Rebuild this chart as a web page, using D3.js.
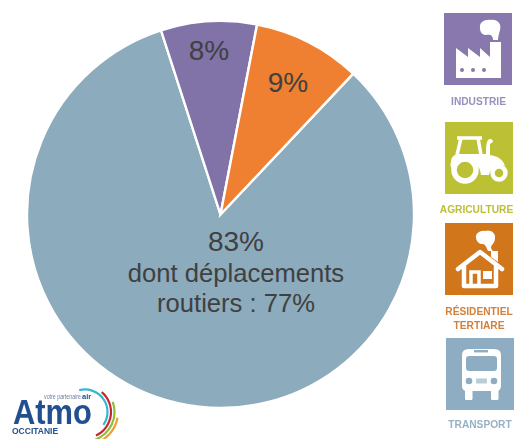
<!DOCTYPE html>
<html>
<head>
<meta charset="utf-8">
<script src="https://cdn.jsdelivr.net/npm/d3@7/dist/d3.min.js"></script>
<style>
html,body{margin:0;padding:0;background:#fff;overflow:hidden}
svg{display:block}
text{font-family:"Liberation Sans",Arial,sans-serif}
</style>
</head>
<body>
<script>
// Parts of emissions by sector, in percent
const sectors = ["Transport", "Industrie", "Résidentiel-tertiaire"];
const shares = [83, 8, 9];
const shareLabels = ["83%", "8%", "9%"];
const sliceColors = ["#8cabbc", "#8172a8", "#ef8031"];
const transportDetail = ["dont déplacements", "routiers : 77%"];

// Legend tiles
const legendNames = ["industrie", "agriculture", "residentiel", "transport"];
const legendColors = ["#8878ae", "#bcc036", "#d2761e", "#8fadc2"];
const legendTextColors = ["#9a8fba", "#bcc036", "#d2813a", "#97b1c4"];
const legendCaptions = [["INDUSTRIE"], ["AGRICULTURE"], ["RÉSIDENTIEL", "TERTIARE"], ["TRANSPORT"]];
const tileX = [444, 445, 445, 446];
const tileY = [13, 122, 223, 338];
const captionX = [478.5, 476.5, 479, 480];
const captionY = [[105], [213], [315, 329], [428]];

const width = 514, height = 439;
const svg = d3.select("body").append("svg").attr("width", width).attr("height", height);

const defs = svg.append("defs");
defs.append("filter").attr("id", "soft").append("feGaussianBlur").attr("stdDeviation", 0.6);

// Pie
const cx = 220.5, cy = 214.5, radius = 193.5;
const startDeg = 43.3;
const pie = d3.pie().sort(null).value(d => d)
  .startAngle(startDeg * Math.PI / 180)
  .endAngle((startDeg + 360) * Math.PI / 180);
const arc = d3.arc().innerRadius(0).outerRadius(radius);
const g = svg.append("g").attr("transform", `translate(${cx},${cy})`);
const arcs = pie(shares);
g.selectAll("path").data(arcs).join("path")
  .attr("d", arc)
  .attr("fill", (d, i) => sliceColors[i])
  .attr("stroke", "#fff")
  .attr("stroke-width", 2.4)
  .attr("stroke-linejoin", "miter");

const ink = "#404040";
const labelPos = [[236, 251], [209, 60], [288, 92]];
svg.selectAll("text.share").data(shareLabels).join("text")
  .attr("class", "share")
  .attr("x", (d, i) => labelPos[i][0])
  .attr("y", (d, i) => labelPos[i][1])
  .attr("text-anchor", "middle")
  .attr("font-size", 28)
  .attr("fill", ink)
  .text(d => d);
svg.selectAll("text.detail").data(transportDetail).join("text")
  .attr("class", "detail")
  .attr("x", 236)
  .attr("y", (d, i) => 282 + i * 30)
  .attr("text-anchor", "middle")
  .attr("font-size", 25.6)
  .attr("fill", ink)
  .text(d => d);

// Pictograms drawn in a 68 x 72 tile
const glyphs = {
  industrie(t) {
    t.append("path").attr("fill", "#fff").attr("d",
      "M12 65V35L24 44V35L36 44V35L46 44V29H57V65Z");
    t.append("path").attr("fill", "#fff").attr("d",
      "M36 15C35 9 41 6 47 7C53 6 58 11 56 17C55 21 54 24 54 27H49C49 23 47 21 42 22C38 22 36 19 36 15Z");
    t.selectAll("circle.win").data([18, 29, 40]).join("circle")
      .attr("cx", d => d).attr("cy", 57).attr("r", 2).attr("fill", "#8878ae");
  },
  agriculture(t) {
    t.append("path").attr("fill", "none").attr("stroke", "#fff").attr("stroke-width", 3.5).attr("d",
      "M12 16H37M16 16L12 33M33 16L36 33");
    t.append("path").attr("fill", "#fff").attr("d",
      "M6 40C6 35 9 32 15 32H41C41 27 41 21 43 18C45 16 48 17 48 20L45 22V33C52 34 58 37 60 44C55 42 49 44 46 48C45 50 44 51 44 53H36C35 43 29 39 20 39C13 39 9 41 7 46C5 45 5 42 6 40Z");
    t.append("circle").attr("cx", 20).attr("cy", 48).attr("r", 11).attr("fill", "none").attr("stroke", "#fff").attr("stroke-width", 5.5);
    t.append("circle").attr("cx", 54).attr("cy", 51).attr("r", 6.5).attr("fill", "none").attr("stroke", "#fff").attr("stroke-width", 4.5);
  },
  residentiel(t) {
    t.append("path").attr("fill", "none").attr("stroke", "#fff").attr("stroke-width", 4.5).attr("stroke-linejoin", "round").attr("stroke-linecap", "round").attr("d",
      "M13 46L35 29L57 46M19 43V63H51V43");
    t.append("path").attr("fill", "#fff").attr("d", "M46 28H53V39L46 34Z");
    t.append("path").attr("fill", "none").attr("stroke", "#fff").attr("stroke-width", 3.5).attr("d", "M26 64V49H34V64");
    t.append("rect").attr("x", 38).attr("y", 48).attr("width", 9).attr("height", 8).attr("fill", "#fff");
    t.append("path").attr("fill", "#fff").attr("d",
      "M31 15C30 10 36 7 40 8C45 6 51 10 50 15C50 20 47 21 46 24C46 26 47 27 48 28H43C41 24 41 22 38 21C34 21 32 19 31 15Z");
  },
  transport(t) {
    t.append("path").attr("fill", "#fff").attr("fill-rule", "evenodd").attr("d",
      "M16 17Q16 11 23 11H48Q55 11 55 17V48Q55 53 50 53H21Q16 53 16 48Z M20 21V30Q20 33 23 33H48Q51 33 51 30V21Q51 18 48 18H23Q20 18 20 21Z");
    t.append("rect").attr("x", 28).attr("y", 12).attr("width", 14).attr("height", 2.4).attr("fill", "#8fadc2");
    t.append("rect").attr("x", 19).attr("y", 51).attr("width", 7.5).attr("height", 11).attr("rx", 1.5).attr("fill", "#fff");
    t.append("rect").attr("x", 45).attr("y", 51).attr("width", 7.5).attr("height", 11).attr("rx", 1.5).attr("fill", "#fff");
    t.selectAll("circle").data([23, 48]).join("circle")
      .attr("cx", d => d).attr("cy", 43).attr("r", 3.3).attr("fill", "#8fadc2");
    t.append("rect").attr("x", 30).attr("y", 40.5).attr("width", 11).attr("height", 5).attr("fill", "#b9cdd9");
  }
};

const legend = svg.append("g").attr("filter", "url(#soft)");
legendNames.forEach((name, i) => {
  const t = legend.append("g").attr("transform", `translate(${tileX[i]},${tileY[i]})`);
  t.append("rect").attr("width", 68).attr("height", 72).attr("fill", legendColors[i]);
  glyphs[name](t);
  legendCaptions[i].forEach((line, j) => {
    legend.append("text")
      .attr("x", captionX[i])
      .attr("y", captionY[i][j])
      .attr("text-anchor", "middle")
      .attr("font-size", 10.2)
      .attr("font-weight", 700)
      .attr("fill", legendTextColors[i])
      .text(line);
  });
});

// Atmo Occitanie signature
const logo = svg.append("g").attr("filter", "url(#soft)");
logo.append("text").attr("x", 13).attr("y", 424).attr("font-size", 35).attr("font-weight", 700)
  .attr("textLength", 79).attr("lengthAdjust", "spacingAndGlyphs").attr("fill", "#24508f").text("Atmo");
logo.append("text").attr("x", 44).attr("y", 399).attr("font-size", 7)
  .attr("textLength", 37).attr("lengthAdjust", "spacingAndGlyphs").attr("fill", "#6b7f9e").text("votre partenaire");
logo.append("text").attr("x", 82).attr("y", 399).attr("font-size", 7.5).attr("font-weight", 700).attr("fill", "#24508f").text("air");
logo.append("text").attr("x", 12).attr("y", 434).attr("font-size", 8.5).attr("font-weight", 700).attr("fill", "#24508f").text("OCCITANIE");
const bands = [
  { r: 22.5, a0: -15, a1: 125, c: "#35b7cf" },
  { r: 26, a0: 40, a1: 155, c: "#c8262f" },
  { r: 29.5, a0: 70, a1: 160, c: "#8cbf3f" },
  { r: 33, a0: 100, a1: 165, c: "#f0a030" }
];
const bandArc = d3.arc();
logo.selectAll("path").data(bands).join("path")
  .attr("transform", "translate(85,412)")
  .attr("fill", d => d.c)
  .attr("d", d => bandArc({
    innerRadius: d.r - 1.1, outerRadius: d.r + 1.1,
    startAngle: d.a0 * Math.PI / 180, endAngle: d.a1 * Math.PI / 180
  }));
</script>
</body>
</html>
